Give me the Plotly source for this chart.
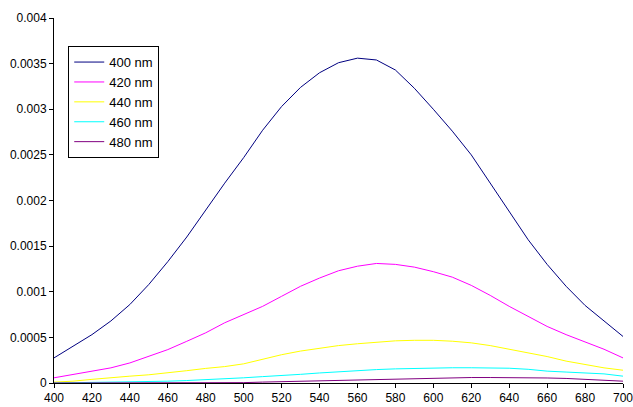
import plotly.graph_objects as go

wavelength = list(range(400, 701, 10))

s400 = [0.000275, 0.00040, 0.00053, 0.00068, 0.00086, 0.00108, 0.00133, 0.00160, 0.00190, 0.00219,
        0.00247, 0.00277, 0.00303, 0.00324, 0.00340, 0.00351, 0.00356, 0.00354, 0.00343, 0.00323,
        0.00300, 0.00276, 0.00250, 0.00219, 0.00187, 0.00157, 0.00130, 0.00106, 0.00085, 0.00068,
        0.00051]
s420 = [0.000057, 0.000093, 0.000129, 0.000166, 0.00022, 0.00029, 0.000366, 0.000457, 0.00055, 0.00066,
        0.00075, 0.00084, 0.00095, 0.00106, 0.00115, 0.00123, 0.00128, 0.00131, 0.00130, 0.00127,
        0.00122, 0.00116, 0.00107, 0.00096, 0.00084, 0.00073, 0.00062, 0.00053, 0.00045, 0.00037,
        0.000275]
s440 = [0.00001, 0.00002, 0.00004, 0.00006, 0.000075, 0.00009, 0.00011, 0.000135, 0.00016, 0.00018,
        0.00021, 0.00026, 0.00031, 0.00035, 0.00038, 0.00041, 0.00043, 0.000446, 0.000462, 0.000468,
        0.000468, 0.000458, 0.00044, 0.00041, 0.00037, 0.00033, 0.00029, 0.00024, 0.00020, 0.000166,
        0.00014]
s460 = [0.0, 0.000002, 0.000004, 0.000007, 0.00001, 0.000015, 0.00002, 0.000027, 0.000035, 0.000045,
        0.000057, 0.00007, 0.00008, 0.000095, 0.00011, 0.000124, 0.000137, 0.000147, 0.000155, 0.000161,
        0.000166, 0.000167, 0.000167, 0.000166, 0.000162, 0.00015, 0.00013, 0.00012, 0.00011, 0.0001,
        0.000075]
s480 = [0.0, 0.0, 0.000001, 0.000001, 0.000002, 0.000002, 0.000003, 0.000003, 0.000003, 0.000003,
        0.000004, 0.00001, 0.000015, 0.00002, 0.00002, 0.000025, 0.00003, 0.000037, 0.000044, 0.00005,
        0.000055, 0.000058, 0.00006, 0.00006, 0.00006, 0.000058, 0.000055, 0.00005, 0.00004, 0.00003,
        0.00002]

series = [("400 nm", s400, "#000080"),
          ("420 nm", s420, "#FF00FF"),
          ("440 nm", s440, "#FFFF00"),
          ("460 nm", s460, "#00FFFF"),
          ("480 nm", s480, "#800080")]

y_ticks = [0, 0.0005, 0.001, 0.0015, 0.002, 0.0025, 0.003, 0.0035, 0.004]
y_labels = ["0", "0.0005", "0.001", "0.0015", "0.002", "0.0025", "0.003", "0.0035", "0.004"]
x_ticks = list(range(400, 701, 20))

fig = go.Figure()
for name, vals, col in series:
    fig.add_trace(go.Scatter(x=wavelength, y=vals, mode="lines", name=name,
                             line=dict(color=col, width=1)))

fig.update_layout(
    width=633, height=407,
    margin=dict(l=54, r=10, t=18, b=24),
    paper_bgcolor="white", plot_bgcolor="white",
    font=dict(family="Liberation Sans, Arial, sans-serif", size=12, color="#000000"),
    showlegend=True,
    legend=dict(x=0.025, y=0.923, xanchor="left", yanchor="top",
                bgcolor="white", bordercolor="#000000", borderwidth=1,
                font=dict(size=13), tracegroupgap=0, itemwidth=30),
    xaxis=dict(range=[400, 700], tickvals=x_ticks, showgrid=False, zeroline=False,
               showline=True, linecolor="#000000", linewidth=1, automargin=False,
               ticklabeloverflow="allow",
               ticks="outside", ticklen=4, tickcolor="#000000"),
    yaxis=dict(range=[0, 0.004], tickvals=y_ticks, ticktext=y_labels, showgrid=False,
               zeroline=False, showline=True, linecolor="#000000", linewidth=1,
               automargin=False, ticklabeloverflow="allow",
               ticks="outside", ticklen=4, tickcolor="#000000"),
)

fig.write_html("out.html")
